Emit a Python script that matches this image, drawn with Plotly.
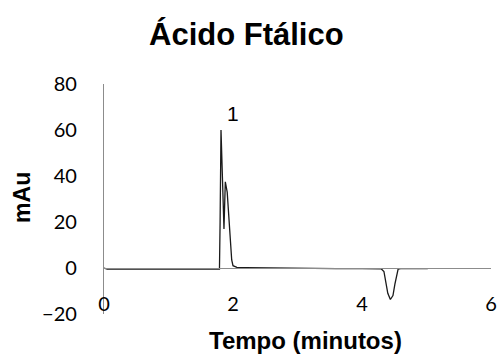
import plotly.graph_objects as go

# Chromatogram data (time in minutes, absorbance in mAu)
tempo = [0.0, 0.05, 0.3, 0.6, 0.9, 1.2, 1.5, 1.79, 1.80, 1.814, 1.86, 1.881,
         1.91, 1.95, 1.98, 2.0, 2.06, 2.2, 2.4, 2.8, 3.2, 3.6, 4.0, 4.3,
         4.34, 4.37, 4.40, 4.44, 4.48, 4.51, 4.54, 4.56, 4.6, 4.8, 5.02]
mau = [0.0, -0.5, -0.5, -0.6, -0.5, -0.5, -0.5, -0.5, 20.0, 60.0, 17.0, 37.5,
       33.0, 15.0, 3.5, 1.0, 0.3, 0.2, 0.1, 0.0, -0.2, -0.3, -0.3, -0.4,
       -1.5, -6.0, -11.0, -13.7, -12.0, -7.0, -2.0, -0.5, -0.3, -0.3, -0.3]

x_ticks = [0, 2, 4, 6]
y_ticks = [-20, 0, 20, 40, 60, 80]

titulo = "Ácido Ftálico"
x_titulo = "Tempo (minutos)"
y_titulo = "mAu"
pico_label = "1"
pico_pos = (2.0, 67)

fig = go.Figure()
fig.add_trace(go.Scatter(x=tempo, y=mau, mode="lines",
                         line=dict(color="#1a1a1a", width=1.3),
                         hoverinfo="skip", showlegend=False))

axis_gray = "#8c8c8c"
tick_font = dict(family="Lato, 'Open Sans', sans-serif", size=20, color="#000")
arial = "Liberation Sans, Arial, sans-serif"

fig.update_layout(
    width=500, height=358,
    margin=dict(l=104, r=9, t=84, b=44, autoexpand=False),
    paper_bgcolor="white", plot_bgcolor="white",
    xaxis=dict(range=[0, 6], tickvals=x_ticks, showgrid=False, zeroline=False,
               showline=True, linecolor=axis_gray, linewidth=1.3,
               anchor="free", position=0.2, ticks="", automargin=False,
               ticklabelstandoff=18, tickfont=tick_font),
    yaxis=dict(range=[-20, 80], tickvals=y_ticks, showgrid=False, zeroline=False,
               showline=True, linecolor=axis_gray, linewidth=1.3,
               ticks="", ticklabelstandoff=22, automargin=False, tickfont=tick_font),
    annotations=[
        dict(text="<b>%s</b>" % titulo, xref="paper", yref="paper",
             x=0.367, y=1.215, showarrow=False, xanchor="center", yanchor="middle",
             font=dict(family=arial, size=31, color="#000")),
        dict(text="<b>%s</b>" % x_titulo, xref="paper", yref="paper",
             x=0.52, y=-0.117, showarrow=False, xanchor="center", yanchor="middle",
             font=dict(family=arial, size=24, color="#000")),
        dict(text="<b>%s</b>" % y_titulo, xref="paper", yref="paper",
             x=-0.212, y=0.509, showarrow=False, xanchor="center", yanchor="middle",
             textangle=-90,
             font=dict(family=arial, size=23, color="#000")),
        dict(text=pico_label, xref="x", yref="y", x=pico_pos[0], y=pico_pos[1],
             showarrow=False, xanchor="center", yanchor="middle",
             font=dict(family=arial, size=21, color="#000")),
    ],
)

fig.write_html("out.html",
               config={"displayModeBar": False},
               post_script="document.body.style.margin='0';document.body.style.overflow='hidden';")
